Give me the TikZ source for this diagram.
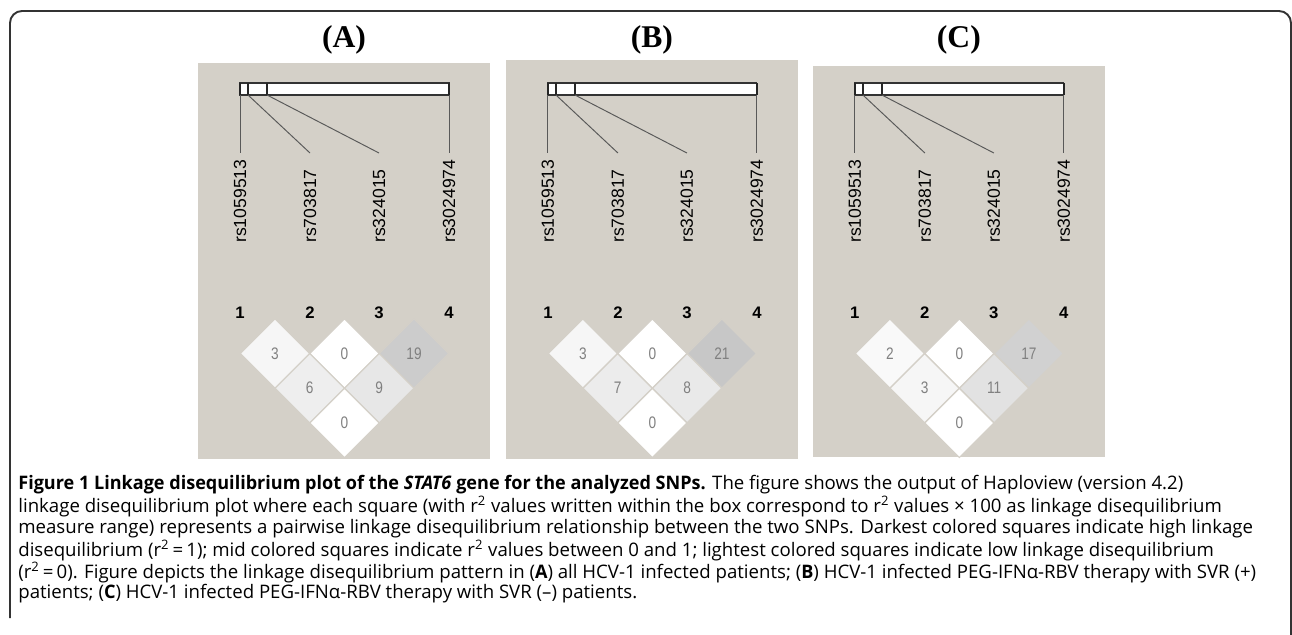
\documentclass[tikz,border=0pt]{standalone}
\usepackage{fontspec}
\setmainfont{Open Sans}[BoldFeatures={FakeStretch=0.97}, BoldItalicFeatures={FakeStretch=0.97}]
\newfontfamily\arialfont{Liberation Sans}
\newfontfamily\narrowfont[FakeStretch=0.82]{Liberation Sans}
\newfontfamily\timesfont{Liberation Serif}
\usepackage{tikz}
\usetikzlibrary{shapes.geometric}
\definecolor{panelgrey}{RGB}{212,208,200}
\definecolor{framegrey}{RGB}{51,51,51}
\definecolor{valgrey}{RGB}{128,128,128}
\definecolor{ld00}{gray}{1.0}
\definecolor{ld02}{gray}{0.975}
\definecolor{ld03}{gray}{0.965}
\definecolor{ld06}{gray}{0.935}
\definecolor{ld07}{gray}{0.925}
\definecolor{ld08}{gray}{0.915}
\definecolor{ld09}{gray}{0.905}
\definecolor{ld11}{gray}{0.885}
\definecolor{ld17}{gray}{0.82}
\definecolor{ld19}{gray}{0.80}
\definecolor{ld21}{gray}{0.78}

\begin{document}
\begin{tikzpicture}[
    x=0.02cm, y=-0.02cm,
    framebox/.style={draw=framegrey, line width=1.1pt, rounded corners=0.24cm},
    paneltitle/.style={font=\timesfont\bfseries\fontsize{18}{20}\selectfont, inner sep=0},
    snpbar/.style={rectangle, draw=black!80, fill=white, line width=0.6pt, minimum width=4.18cm, minimum height=0.24cm, inner sep=0},
    bartick/.style={draw=black!85, line width=1pt},
    snpline/.style={draw=black!65, line width=0.55pt},
    snplabel/.style={rotate=90, anchor=west, inner sep=0, font=\arialfont\fontsize{10}{12}\selectfont},
    snpnum/.style={inner sep=0, font=\arialfont\bfseries\fontsize{9.5}{11}\selectfont},
    ldcell/.style={diamond, draw=panelgrey, line width=0.6pt, minimum width=1.39cm, minimum height=1.39cm, inner sep=0, text=valgrey, font=\narrowfont\fontsize{9.5}{11}\selectfont},
    capline/.style={anchor=west, inner sep=0, font=\fontsize{10.6}{12}\selectfont}
]
    \useasboundingbox (0,0) rectangle (1292,635);
    \draw[framebox] (10,618) -- (10,11) -- (1291,11) -- (1291,660);

    % panel (A)
    \fill[panelgrey] (198,63) rectangle (490,459);
    \node[paneltitle] (titleA) at (344,40) {(A)};
    \node[snpbar] (barA) at (344.5,89) {};
    \coordinate (tA1) at (240,95);
    \coordinate (tA2) at (248,95);
    \coordinate (tA3) at (267,95);
    \coordinate (tA4) at (449,95);
    \draw[bartick] (240,83) -- (tA1) (248,83) -- (tA2) (267,83) -- (tA3) (449,83) -- (tA4);
    \coordinate (eA1) at (240,153);
    \coordinate (eA2) at (310,153);
    \coordinate (eA3) at (379,153);
    \coordinate (eA4) at (449,153);
    \draw[snpline] (tA1) -- (eA1);
    \draw[snpline] (tA2) -- (eA2);
    \draw[snpline] (tA3) -- (eA3);
    \draw[snpline] (tA4) -- (eA4);
    \node[snplabel] (lA1) at (240,243) {rs1059513};
    \node[snplabel] (lA2) at (310,243) {rs703817};
    \node[snplabel] (lA3) at (379,243) {rs324015};
    \node[snplabel] (lA4) at (449,243) {rs3024974};
    \node[snpnum] (nA1) at (240,313) {1};
    \node[snpnum] (nA2) at (310,313) {2};
    \node[snpnum] (nA3) at (379,313) {3};
    \node[snpnum] (nA4) at (449,313) {4};
    \node[ldcell, fill=ld03] (dA12) at (275,353.5) {3};
    \node[ldcell, fill=ld00] (dA23) at (344.5,353.5) {0};
    \node[ldcell, fill=ld19] (dA34) at (414,353.5) {19};
    \node[ldcell, fill=ld06] (dA13) at (309.75,388.25) {6};
    \node[ldcell, fill=ld09] (dA24) at (379.25,388.25) {9};
    \node[ldcell, fill=ld00] (dA14) at (344.5,423) {0};

    % panel (B)
    \begin{scope}[xshift=6.16cm]
    \fill[panelgrey] (198,60) rectangle (490,459);
    \node[paneltitle] (titleB) at (344,40) {(B)};
    \node[snpbar] (barB) at (344.5,89) {};
    \coordinate (tB1) at (240,95);
    \coordinate (tB2) at (248,95);
    \coordinate (tB3) at (267,95);
    \coordinate (tB4) at (449,95);
    \draw[bartick] (240,83) -- (tB1) (248,83) -- (tB2) (267,83) -- (tB3) (449,83) -- (tB4);
    \coordinate (eB1) at (240,153);
    \coordinate (eB2) at (310,153);
    \coordinate (eB3) at (379,153);
    \coordinate (eB4) at (449,153);
    \draw[snpline] (tB1) -- (eB1);
    \draw[snpline] (tB2) -- (eB2);
    \draw[snpline] (tB3) -- (eB3);
    \draw[snpline] (tB4) -- (eB4);
    \node[snplabel] (lB1) at (240,243) {rs1059513};
    \node[snplabel] (lB2) at (310,243) {rs703817};
    \node[snplabel] (lB3) at (379,243) {rs324015};
    \node[snplabel] (lB4) at (449,243) {rs3024974};
    \node[snpnum] (nB1) at (240,313) {1};
    \node[snpnum] (nB2) at (310,313) {2};
    \node[snpnum] (nB3) at (379,313) {3};
    \node[snpnum] (nB4) at (449,313) {4};
    \node[ldcell, fill=ld03] (dB12) at (275,353.5) {3};
    \node[ldcell, fill=ld00] (dB23) at (344.5,353.5) {0};
    \node[ldcell, fill=ld21] (dB34) at (414,353.5) {21};
    \node[ldcell, fill=ld07] (dB13) at (309.75,388.25) {7};
    \node[ldcell, fill=ld08] (dB24) at (379.25,388.25) {8};
    \node[ldcell, fill=ld00] (dB14) at (344.5,423) {0};
    \end{scope}

    % panel (C)
    \begin{scope}[xshift=12.3cm]
    \fill[panelgrey] (198,66) rectangle (490,457);
    \node[paneltitle] (titleC) at (344,40) {(C)};
    \node[snpbar] (barC) at (344.5,89) {};
    \coordinate (tC1) at (240,95);
    \coordinate (tC2) at (248,95);
    \coordinate (tC3) at (267,95);
    \coordinate (tC4) at (449,95);
    \draw[bartick] (240,83) -- (tC1) (248,83) -- (tC2) (267,83) -- (tC3) (449,83) -- (tC4);
    \coordinate (eC1) at (240,153);
    \coordinate (eC2) at (310,153);
    \coordinate (eC3) at (379,153);
    \coordinate (eC4) at (449,153);
    \draw[snpline] (tC1) -- (eC1);
    \draw[snpline] (tC2) -- (eC2);
    \draw[snpline] (tC3) -- (eC3);
    \draw[snpline] (tC4) -- (eC4);
    \node[snplabel] (lC1) at (240,243) {rs1059513};
    \node[snplabel] (lC2) at (310,243) {rs703817};
    \node[snplabel] (lC3) at (379,243) {rs324015};
    \node[snplabel] (lC4) at (449,243) {rs3024974};
    \node[snpnum] (nC1) at (240,313) {1};
    \node[snpnum] (nC2) at (310,313) {2};
    \node[snpnum] (nC3) at (379,313) {3};
    \node[snpnum] (nC4) at (449,313) {4};
    \node[ldcell, fill=ld02] (dC12) at (275,353.5) {2};
    \node[ldcell, fill=ld00] (dC23) at (344.5,353.5) {0};
    \node[ldcell, fill=ld17] (dC34) at (414,353.5) {17};
    \node[ldcell, fill=ld03] (dC13) at (309.75,388.25) {3};
    \node[ldcell, fill=ld11] (dC24) at (379.25,388.25) {11};
    \node[ldcell, fill=ld00] (dC14) at (344.5,423) {0};
    \end{scope}

    % caption
    \node[capline] (cap1) at (18,485) {\textbf{Figure 1 Linkage disequilibrium plot of the \textit{STAT6} gene for the analyzed SNPs.} The figure shows the output of Haploview (version 4.2)};
    \node[capline] (cap2) at (18,506.8) {linkage disequilibrium plot where each square (with r\textsuperscript{2} values written within the box correspond to r\textsuperscript{2} values × 100 as linkage disequilibrium};
    \node[capline] (cap3) at (18,528.6) {measure range) represents a pairwise linkage disequilibrium relationship between the two SNPs. Darkest colored squares indicate high linkage};
    \node[capline] (cap4) at (18,550.4) {disequilibrium (r\textsuperscript{2}\,=\,1); mid colored squares indicate r\textsuperscript{2} values between 0 and 1; lightest colored squares indicate low linkage disequilibrium};
    \node[capline] (cap5) at (18,572.2) {(r\textsuperscript{2}\,=\,0). Figure depicts the linkage disequilibrium pattern in (\textbf{A}) all HCV-1 infected patients; (\textbf{B}) HCV-1 infected PEG-IFNα-RBV therapy with SVR (+)};
    \node[capline] (cap6) at (18,594) {patients; (\textbf{C}) HCV-1 infected PEG-IFNα-RBV therapy with SVR (–) patients.};
\end{tikzpicture}
\end{document}
